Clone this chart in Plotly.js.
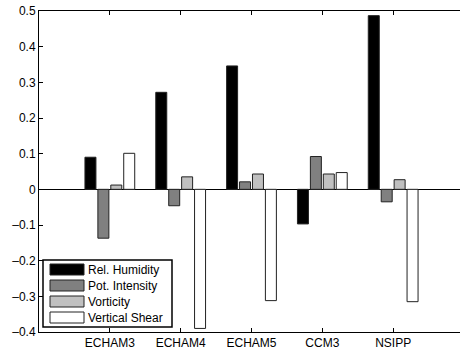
<!DOCTYPE html>
<html><head><meta charset="utf-8">
<script src="https://cdn.plot.ly/plotly-3.0.1.min.js"></script>
<style>html,body{margin:0;padding:0;overflow:hidden;background:#fff}#chart{width:470px;height:353px}</style>
</head><body><div id="chart"></div>
<script>
const models = ["ECHAM3", "ECHAM4", "ECHAM5", "CCM3", "NSIPP"];
const relHumidity = [0.090, 0.272, 0.346, -0.097, 0.487];
const potIntensity = [-0.137, -0.046, 0.021, 0.092, -0.035];
const vorticity = [0.012, 0.035, 0.043, 0.043, 0.027];
const verticalShear = [0.101, -0.390, -0.312, 0.047, -0.315];
const seriesNames = ["Rel. Humidity", "Pot. Intensity", "Vorticity", "Vertical Shear"];
const yTicks = [-0.4, -0.3, -0.2, -0.1, 0, 0.1, 0.2, 0.3, 0.4, 0.5];

const seriesValues = [relHumidity, potIntensity, vorticity, verticalShear];
const colors = ["#000000", "#808080", "#c0c0c0", "#ffffff"];
const edge = "#222";
const data = seriesNames.map((n, i) => ({
  type: "bar", x: models, y: seriesValues[i], name: n,
  marker: {color: colors[i], line: {color: edge, width: 1}}
}));
const font = {family: "Liberation Sans, Arial, Helvetica, sans-serif", size: 12, color: "#000"};

// MATLAB-style legend drawn in plot-area fractions
const W = 425, H = 321, L = 39, T = 11;
const px = x => (x - L) / W, py = y => (T + H - y) / H;
const shapes = [{type: "rect", xref: "paper", yref: "paper", x0: px(43), x1: px(172), y0: py(327), y1: py(260),
  fillcolor: "#fff", line: {color: "#000", width: 1.5}}];
const annotations = [];
seriesNames.forEach((n, i) => {
  const top = 264 + i * 16;
  shapes.push({type: "rect", xref: "paper", yref: "paper", x0: px(50), x1: px(84), y0: py(top + 11), y1: py(top),
    fillcolor: colors[i], line: {color: edge, width: 1}});
  annotations.push({xref: "paper", yref: "paper", x: px(86), y: py(top + 5.5), xanchor: "left", yanchor: "middle",
    text: n, showarrow: false, font: font});
});

const layout = {
  width: 470, height: 353,
  margin: {l: 39, r: 6, t: 11, b: 21, pad: 0},
  paper_bgcolor: "#fff", plot_bgcolor: "#fff",
  font: font,
  barmode: "group", bargap: 0.27, bargroupgap: 0.15,
  showlegend: false,
  shapes: shapes, annotations: annotations,
  xaxis: {type: "category", range: [-1, 5], showline: true, linecolor: "#000", linewidth: 1,
    mirror: "ticks", ticks: "inside", ticklen: 4, tickcolor: "#000", showgrid: false,
    zeroline: false, tickfont: font},
  yaxis: {range: [-0.4, 0.5], tickvals: yTicks, ticktext: yTicks.map(v => v === 0 ? "0" : (v < 0 ? "\u2013" + Math.abs(v).toFixed(1) : v.toFixed(1))),
    showline: true, linecolor: "#000", linewidth: 1, mirror: "ticks", ticks: "inside", ticklen: 4,
    tickcolor: "#000", showgrid: false, zeroline: true, zerolinecolor: "#000", zerolinewidth: 1,
    tickfont: font}
};
Plotly.newPlot("chart", data, layout, {displayModeBar: false, staticPlot: true});
</script></body></html>
